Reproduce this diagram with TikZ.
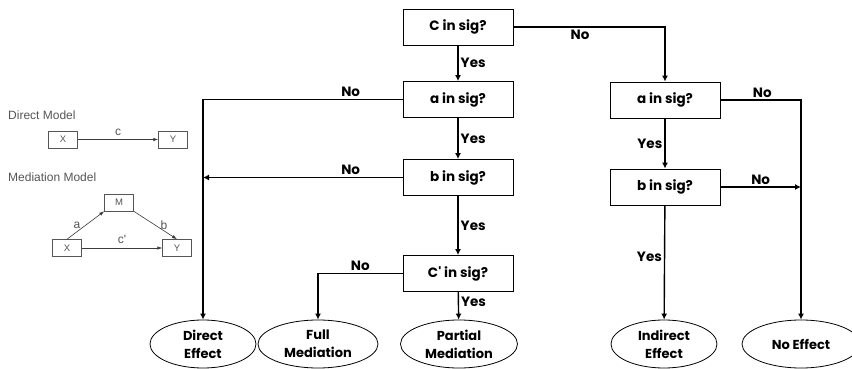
\documentclass[tikz,border=0pt]{standalone}
\usepackage{fontspec}
\setmainfont{Poppins}
\newfontfamily\modelfont{Liberation Sans}
\usetikzlibrary{shapes.geometric,arrows.meta}

\definecolor{modelgray}{HTML}{555555}

\tikzset{
  question/.style={draw, line width=0.8pt, minimum width=110pt, minimum height=36pt,
    inner sep=0pt, font=\bfseries\fontsize{13.5}{15}\selectfont},
  outcome/.style={ellipse, draw, line width=0.8pt, minimum width=#1, minimum height=48pt,
    inner sep=0pt, align=center, font=\bfseries\fontsize{13}{18}\selectfont},
  outcome/.default=118pt,
  flow/.style={line width=1.4pt, -{Latex[length=6pt,width=6pt]}},
  answer/.style={font=\bfseries\fontsize{13.5}{15}\selectfont, inner sep=2pt},
  mbox/.style={draw=modelgray, line width=0.5pt, minimum width=29pt, minimum height=17pt,
    inner sep=0pt, text=modelgray, font=\modelfont\fontsize{9.5}{10}\selectfont},
  mtext/.style={text=modelgray, font=\modelfont\fontsize{12}{13}\selectfont, inner sep=0pt},
  mpath/.style={draw=modelgray!70!black, line width=0.6pt, -{Latex[length=5pt,width=3.5pt]}},
}

\begin{document}
\begin{tikzpicture}[x=1pt,y=-1pt]
  \useasboundingbox (0,0) rectangle (852,369);

  % questions
  \node[question] (cq) at (458,27) {C in sig?};
  \node[question] (aq) at (458,99.5) {a in sig?};
  \node[question] (bq) at (458,177.5) {b in sig?};
  \node[question] (cpq) at (458,273.5) {C\textquotesingle{} in sig?};
  \node[question] (ra) at (665,100) {a in sig?};
  \node[question] (rb) at (665,187) {b in sig?};

  % outcomes
  \node[outcome=106pt] (direct) at (203,344) {Direct\\Effect};
  \node[outcome=120pt] (full) at (318,344) {Full\\Mediation};
  \node[outcome=117pt] (partial) at (459,344) {Partial\\Mediation};
  \node[outcome=106pt] (indirect) at (664,344) {Indirect\\Effect};
  \node[outcome=118pt] (noeff) at (801,344) {No Effect};

  \coordinate (bleft) at (203,177.5);
  \coordinate (bright) at (801,187);

  % left branch
  \draw[flow] (cq) -- node[answer, right] {Yes} (aq);
  \draw[flow] (aq) -- node[answer, right] {Yes} (bq);
  \draw[flow] (bq) -- node[answer, right] {Yes} (cpq);
  \draw[flow] (cpq) -- node[answer, right, pos=0.35] {Yes} (partial);
  \draw[flow] (aq.west) -| node[answer, above, pos=0.13] {No} (direct.north);
  \draw[flow] (bq.west) -- node[answer, above, pos=0.26] {No} (bleft);
  \draw[flow] (cpq.west) -| node[answer, above, pos=0.25] {No} (full.north);

  % right branch
  \draw[flow] (cq.east) -| node[answer, below, pos=0.22] {No} (ra.north);
  \draw[flow] (ra) -- node[answer, left] {Yes} (rb);
  \draw[flow] (rb) -- node[answer, left, pos=0.45] {Yes} (indirect);
  \draw[flow] (ra.east) -| node[answer, above, pos=0.26] {No} (noeff.north);
  \draw[flow] (rb.east) -- node[answer, above] {No} (bright);

  % direct model
  \node[mtext, anchor=west] (dmtitle) at (8,115) {Direct Model};
  \node[mbox] (dx) at (63,139.5) {X};
  \node[mbox] (dy) at (173,139.5) {Y};
  \draw[mpath] (dx) -- node[mtext, above=4pt] {c} (dy);

  % mediation model
  \node[mtext, anchor=west] (mmtitle) at (8,177) {Mediation Model};
  \node[mbox] (mm) at (119,202.5) {M};
  \node[mbox] (mx) at (67,248) {X};
  \node[mbox] (my) at (177,248) {Y};
  \draw[mpath] (mx.north) -- node[mtext, left=5pt] {a} (mm.south west);
  \draw[mpath] (mm.south east) -- node[mtext, right=5pt] {b} (my.north);
  \draw[mpath] (mx) -- node[mtext, above=4pt] {c\textquotesingle} (my);
\end{tikzpicture}
\end{document}
